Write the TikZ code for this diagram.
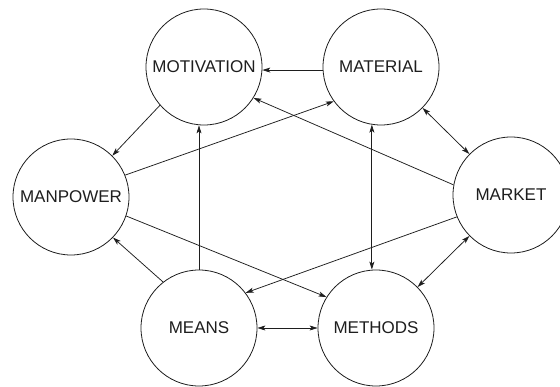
\documentclass[tikz,border=0pt]{standalone}
\usepackage{fontspec}
\setmainfont{Liberation Sans}
\usetikzlibrary{arrows.meta}
\definecolor{ink}{HTML}{1E1E1E}
\begin{document}
\begin{tikzpicture}[x=1pt,y=-1pt,
  factor/.style={circle,draw=ink,line width=0.8pt,minimum size=116pt,inner sep=0pt,
    text=ink,font=\fontsize{17}{19}\selectfont},
  link/.style={draw=ink,line width=0.75pt},
  tip/.tip={Stealth[length=8pt,width=5pt,inset=2pt]}]
  \useasboundingbox[fill=white] (0,0) rectangle (560,387);
  % the six factors
  \node[factor] (mot) at (204,67)  {MOTIVATION};
  \node[factor] (mat) at (381,67)  {MATERIAL};
  \node[factor] (man) at (71,197)  {MANPOWER};
  \node[factor] (mar) at (511,195) {MARKET};
  \node[factor] (mea) at (199,328) {MEANS};
  \node[factor] (met) at (376,328) {METHODS};
  % one-way influences
  \draw[link,-tip] (mat.183) -- (mot.-3);
  \draw[link,-tip] (mar.170) -- (mot.-32);
  \draw[link,-tip] (mot.221) -- (man.45);
  \draw[link,-tip] (man.22) -- (mat.216);
  \draw[link,-tip] (mea.north) -- (mea.north |- mot.south);
  \draw[link,-tip] (man.-19) -- (met.148);
  \draw[link,-tip] (mar.202) -- (mea.37);
  \draw[link,-tip] (mea.128) -- (man.-44);
  % two-way influences
  \draw[link,tip-tip] (mat) -- (mar);
  \draw[link,tip-tip] (mat.261) -- (mat.261 |- met.north);
  \draw[link,tip-tip] (mar) -- (met);
  \draw[link,tip-tip] (mea) -- (met);
\end{tikzpicture}
\end{document}
